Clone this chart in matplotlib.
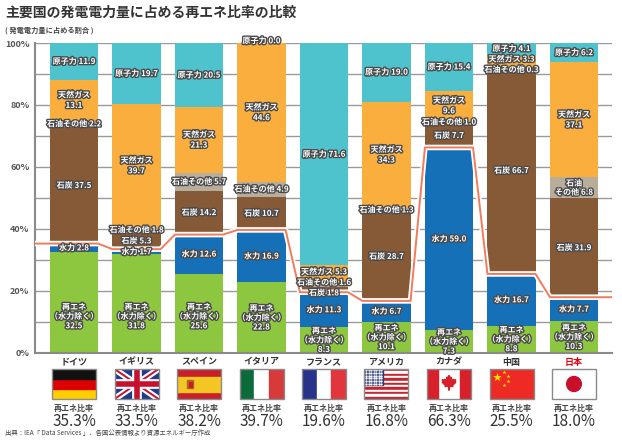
import numpy as np
import matplotlib
matplotlib.use("Agg")
import matplotlib.pyplot as plt
import matplotlib.patheffects as pe
from matplotlib.patches import Rectangle, Circle, Polygon

plt.rcParams['font.family'] = ['Noto Sans CJK JP', 'DejaVu Sans']

# data (% of generated electricity)
countries = ['ドイツ', 'イギリス', 'スペイン', 'イタリア', 'フランス', 'アメリカ', 'カナダ', '中国', '日本']
renew_ex_hydro = [32.5, 31.8, 25.6, 22.8, 8.3, 10.1, 7.3, 8.8, 10.3]
hydro = [2.8, 1.7, 12.6, 16.9, 11.3, 6.7, 59.0, 16.7, 7.7]
coal = [37.5, 5.3, 14.2, 10.7, 1.8, 28.7, 7.7, 66.7, 31.9]
oil_other = [2.2, 1.8, 5.7, 4.9, 1.6, 1.3, 1.0, 0.3, 6.8]
gas = [13.1, 39.7, 21.3, 44.6, 5.3, 34.3, 9.6, 3.3, 37.1]
nuclear = [11.9, 19.7, 20.5, 0.0, 71.6, 19.0, 15.4, 4.1, 6.2]
renew_ratio = [35.3, 33.5, 38.2, 39.7, 19.6, 16.8, 66.3, 25.5, 18.0]

c_renew = '#8DC63F'
c_hydro = '#1570B8'
c_coal = '#875A37'
c_oil = '#B8AC9B'
c_gas = '#F9AE3D'
c_nuc = '#4EC3CD'
c_line = '#F27B5B'

W, H = 622, 442
fig = plt.figure(figsize=(W / 100, H / 100), dpi=100)
ax = fig.add_axes([35 / W, 89 / H, 577 / W, 310 / H])

x = np.arange(len(countries))
bw = 0.77
stroke = [pe.withStroke(linewidth=2.0, foreground='#4a4a4a')]
lab_kw = dict(ha='center', va='center', color='white', fontsize=5.8,
              fontweight='bold', path_effects=stroke, zorder=6)

series = [renew_ex_hydro, hydro, coal, oil_other, gas, nuclear]
colors = [c_renew, c_hydro, c_coal, c_oil, c_gas, c_nuc]
bottom = np.zeros(len(countries))
bottoms = []
for vals, col in zip(series, colors):
    ax.bar(x, vals, bw, bottom=bottom, color=col, zorder=2)
    bottoms.append(bottom.copy())
    bottom = bottom + np.array(vals)

# segment labels
for i in range(len(countries)):
    r = renew_ex_hydro[i]
    ax.text(i, min(r / 2, 11.8), '再エネ\n（水力除く）\n%.1f' % r,
            linespacing=1.05, **lab_kw)

    single = []  # one-line labels that may need spreading
    v = hydro[i]
    single.append([bottoms[1][i] + v / 2, '水力 %.1f' % v])
    v = coal[i]
    single.append([bottoms[2][i] + v / 2, '石炭 %.1f' % v])
    v = oil_other[i]
    if countries[i] == '日本':
        ax.text(i, bottoms[3][i] + v / 2, '石油\nその他 %.1f' % v, linespacing=1.0, **lab_kw)
    else:
        single.append([bottoms[3][i] + v / 2, '石油その他 %.1f' % v])
    v = gas[i]
    if v >= 9:
        ax.text(i, bottoms[4][i] + v / 2, '天然ガス\n%.1f' % v, linespacing=1.2, **lab_kw)
    else:
        single.append([bottoms[4][i] + v / 2, '天然ガス %.1f' % v])
    v = nuclear[i]
    if v == 0:
        ax.text(i, bottoms[5][i] + 0.8, '原子力 %.1f' % v, **lab_kw)
    else:
        single.append([bottoms[5][i] + v / 2, '原子力 %.1f' % v])

    gap = 3.4
    for _ in range(30):
        for k in range(len(single) - 1):
            d = single[k + 1][0] - single[k][0]
            if d < gap:
                s = (gap - d) / 2
                single[k][0] -= s
                single[k + 1][0] += s
    for yy, t in single:
        ax.text(i, yy, t, **lab_kw)

ax.set_xlim(-0.624, 8.608)
ax.set_ylim(0, 100)

# renewable ratio line
lx = [ax.get_xlim()[0]]
ly = [renew_ratio[0]]
for i, r in enumerate(renew_ratio):
    lx += [i - bw / 2, i + bw / 2]
    ly += [r, r]
lx.append(ax.get_xlim()[1])
ly.append(renew_ratio[-1])
ax.plot(lx, ly, color=c_line, lw=1.4, zorder=5,
        path_effects=[pe.withStroke(linewidth=4, foreground='white')])

ax.set_yticks(range(0, 101, 20))
ax.set_yticklabels(['%d%%' % t for t in range(0, 101, 20)],
                   fontsize=6.5, fontweight='bold', color='#555')
ax.set_yticks(range(0, 101, 10), minor=True)
ax.set_xticks([])
ax.tick_params(axis='y', which='both', length=0, pad=4)
ax.grid(axis='y', which='both', color='#9a9a9a', lw=1.0, zorder=0)
for s in ['top', 'right']:
    ax.spines[s].set_visible(False)
for s in ['left', 'bottom']:
    ax.spines[s].set_color('#8a8a8a')
    ax.spines[s].set_linewidth(1.5)

# texts
fig.text(5 / W, 1 - 13 / H, '主要国の発電電力量に占める再エネ比率の比較', fontsize=10,
         fontweight='bold', color='#333', va='center', ha='left')
fig.text(5 / W, 1 - 30 / H, '( 発電電力量に占める割合 )', fontsize=5.2,
         fontweight='bold', color='#444', va='center', ha='left')
fig.text(5 / W, 1 - 433 / H, '出典：IEA「 Data Services 」、各国公表情報より資源エネルギー庁作成',
         fontsize=4.6, color='#444', va='center', ha='left')


# flags
def maple(cx, cy, s):
    pts = [(0, 1.0), (0.15, 0.7), (0.3, 0.8), (0.25, 0.35), (0.55, 0.55), (0.6, 0.45),
           (0.85, 0.5), (0.75, 0.25), (0.85, 0.2), (0.45, -0.15), (0.5, -0.3),
           (0.05, -0.25), (0.05, -0.7), (-0.05, -0.7), (-0.05, -0.25), (-0.5, -0.3),
           (-0.45, -0.15), (-0.85, 0.2), (-0.75, 0.25), (-0.85, 0.5), (-0.6, 0.45),
           (-0.55, 0.55), (-0.25, 0.35), (-0.3, 0.8), (-0.15, 0.7)]
    return [(cx + px * s, cy + py * s * 1.05) for px, py in pts]


def draw_flag(fa, name):
    if name == 'ドイツ':
        for k, c in enumerate(['#FFCE00', '#DD0000', '#111111']):
            fa.add_patch(Rectangle((0, k * 2 / 3), 3, 2 / 3, color=c))
    elif name == 'イギリス':
        fa.add_patch(Rectangle((0, 0), 3, 2, color='#1F3C88'))
        for a, b in [([0, 3], [0, 2]), ([0, 3], [2, 0])]:
            fa.plot(a, b, color='white', lw=4.5)
            fa.plot(a, b, color='#C8102E', lw=1.4)
        fa.plot([1.5, 1.5], [0, 2], color='white', lw=7)
        fa.plot([0, 3], [1, 1], color='white', lw=7)
        fa.plot([1.5, 1.5], [0, 2], color='#C8102E', lw=4)
        fa.plot([0, 3], [1, 1], color='#C8102E', lw=4)
    elif name == 'スペイン':
        fa.add_patch(Rectangle((0, 0), 3, 2, color='#C8202A'))
        fa.add_patch(Rectangle((0, 0.5), 3, 1, color='#F3C623'))
        fa.add_patch(Rectangle((0.7, 0.72), 0.4, 0.56, color='#B5652B'))
        fa.add_patch(Rectangle((0.8, 0.82), 0.2, 0.3, color='#C8202A'))
    elif name == 'イタリア':
        for k, c in enumerate(['#0B6B3A', 'white', '#D63A3A']):
            fa.add_patch(Rectangle((k, 0), 1, 2, color=c))
    elif name == 'フランス':
        for k, c in enumerate(['#27338B', 'white', '#E1363C']):
            fa.add_patch(Rectangle((k, 0), 1, 2, color=c))
    elif name == 'アメリカ':
        for k in range(13):
            fa.add_patch(Rectangle((0, 2 - (k + 1) * 2 / 13), 3, 2 / 13,
                                   color='#C4262E' if k % 2 == 0 else 'white'))
        fa.add_patch(Rectangle((0, 2 - 14 / 13), 1.25, 14 / 13, color='#2F3A74'))
        gx, gy = np.meshgrid(np.linspace(0.1, 1.15, 7), np.linspace(1.0, 1.92, 6))
        fa.scatter(gx.ravel(), gy.ravel(), s=0.5, color='white', zorder=3)
    elif name == 'カナダ':
        fa.add_patch(Rectangle((0, 0), 3, 2, color='white'))
        fa.add_patch(Rectangle((0, 0), 0.75, 2, color='#D8202A'))
        fa.add_patch(Rectangle((2.25, 0), 0.75, 2, color='#D8202A'))
        fa.add_patch(Polygon(maple(1.5, 1.0, 0.55), color='#D8202A'))
    elif name == '中国':
        fa.add_patch(Rectangle((0, 0), 3, 2, color='#EE2A24'))
        fa.scatter([0.5], [1.45], marker='*', s=45, color='#FFDE00', lw=0, zorder=3)
        fa.scatter([1.0, 1.25, 1.25, 1.0], [1.8, 1.55, 1.2, 0.95], marker='*', s=9,
                   color='#FFDE00', lw=0, zorder=3)
    elif name == '日本':
        fa.add_patch(Rectangle((0, 0), 3, 2, color='white'))
        fa.add_patch(Circle((1.5, 1.0), 0.5, color='#C8102E'))
    fa.add_patch(Rectangle((0, 0), 3, 2, fill=False, edgecolor='#8a8a8a', lw=1.0,
                           clip_on=False, zorder=5))


fw, fh = 44, 30
for i, name in enumerate(countries):
    xd = ax.transData.transform((i, 0))[0]
    fa = fig.add_axes([(xd - fw / 2) / W, 43 / H, fw / W, fh / H])
    fa.set_xlim(0, 3)
    fa.set_ylim(0, 2)
    fa.axis('off')
    draw_flag(fa, name)

    xf = xd / W
    fig.text(xf, 1 - 362 / H, name, ha='center', va='center', fontsize=6.5,
             fontweight='bold', color='#E60012' if name == '日本' else '#333')
    fig.text(xf, 1 - 408 / H, '再エネ比率', ha='center', va='center', fontsize=5.8,
             fontweight='bold', color='#444')
    fig.text(xf, 1 - 421 / H, '%.1f%%' % renew_ratio[i], ha='center', va='center',
             fontsize=11, color='#333')

fig.savefig('out.png', dpi=100)
